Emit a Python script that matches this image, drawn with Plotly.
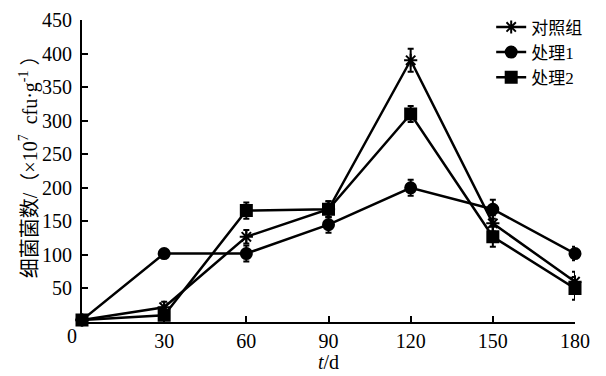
import plotly.graph_objects as go

days = [0, 30, 60, 90, 120, 150, 180]
x_ticks = [30, 60, 90, 120, 150, 180]
y_ticks = [50, 100, 150, 200, 250, 300, 350, 400, 450]

control = [3, 22, 127, 168, 390, 147, 60]
control_err = [0, 8, 10, 12, 17, 12, 15]
treat1 = [3, 102, 102, 145, 200, 168, 102]
treat1_err = [0, 3, 12, 12, 12, 14, 10]
treat2 = [3, 10, 166, 168, 310, 127, 50]
treat2_err = [0, 5, 12, 12, 12, 15, 17]

names = ["对照组", "处理1", "处理2"]
FONT = "Liberation Serif, Noto Sans CJK SC"
TICKFONT = dict(family="Liberation Serif", size=20, color="black")

fig = go.Figure()
series = [
    (control, control_err, names[0], "asterisk-open", 11),
    (treat1, treat1_err, names[1], "circle", 11),
    (treat2, treat2_err, names[2], "square", 11),
]
for vals, errs, name, sym, sz in series:
    fig.add_trace(go.Scatter(
        x=days, y=vals, name=name, mode="lines+markers",
        line=dict(color="black", width=2.5),
        marker=dict(symbol=sym, size=sz, color="black",
                    line=dict(color="black", width=2)),
        error_y=dict(type="data", array=errs, visible=True,
                     color="black", thickness=2, width=3),
        cliponaxis=False,
    ))

# the page body adds an 8px margin, so the figure is sized to fit the window
fig.update_layout(
    width=598, height=368,
    margin=dict(l=74, r=31, t=12, b=54, autoexpand=False),
    paper_bgcolor="white", plot_bgcolor="white",
    font=dict(family=FONT, size=20, color="black"),
    showlegend=True,
    legend=dict(x=0.83, y=1.035, xanchor="left", yanchor="top",
                font=dict(size=17, family=FONT),
                bgcolor="rgba(0,0,0,0)"),
    xaxis=dict(range=[0, 180], tickvals=x_ticks, ticktext=[str(v) for v in x_ticks],
               showline=True, linecolor="black", linewidth=2, automargin=False,
               ticks="inside", ticklen=6, tickwidth=2, tickcolor="black",
               tickfont=TICKFONT, showgrid=False, zeroline=False, title=None),
    yaxis=dict(range=[0, 450], tickvals=y_ticks, ticktext=[str(v) for v in y_ticks],
               showline=True, linecolor="black", linewidth=2, automargin=False,
               ticks="inside", ticklen=6, tickwidth=2, tickcolor="black",
               tickfont=TICKFONT, showgrid=False, zeroline=False, ticklabelstandoff=4,
               title=None),
)

fig.add_annotation(text="0", xref="paper", yref="paper", x=-0.02, y=-0.046,
                   xanchor="center", yanchor="middle",
                   showarrow=False, font=TICKFONT)
fig.add_annotation(text="<i>t</i>/d", xref="paper", yref="paper", x=0.499, y=-0.132,
                   xanchor="center", yanchor="middle",
                   showarrow=False, font=TICKFONT)
fig.add_annotation(text="细菌菌数/（×10<sup>7</sup>  cfu·g<sup>-1</sup> ）",
                   xref="paper", yref="paper", x=-0.107, y=0.53,
                   xanchor="center", yanchor="middle", textangle=-90,
                   showarrow=False, font=dict(size=20, family=FONT))

fig.write_html("out.html")
